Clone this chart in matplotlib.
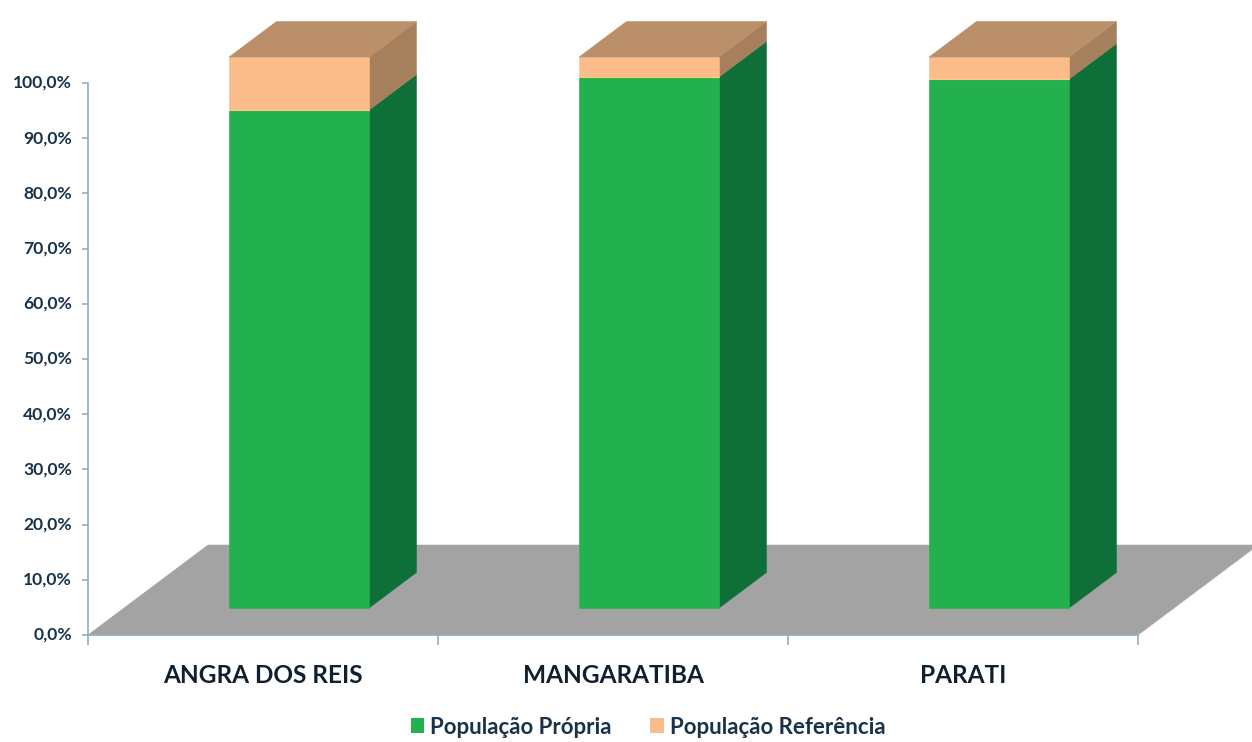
import matplotlib
matplotlib.use("Agg")
import matplotlib.pyplot as plt
from matplotlib.patches import Polygon, Patch

plt.rcParams['font.family'] = ['Lato', 'DejaVu Sans']

municipios = ["ANGRA DOS REIS", "MANGARATIBA", "PARATI"]
pop_propria = [90.2, 96.2, 95.8]
pop_referencia = [9.6, 3.6, 4.0]
y_ticks = [0, 10, 20, 30, 40, 50, 60, 70, 80, 90, 100]
y_labels = ["0,0%", "10,0%", "20,0%", "30,0%", "40,0%", "50,0%",
            "60,0%", "70,0%", "80,0%", "90,0%", "100,0%"]

GREEN, GREEN_SIDE = "#23b14f", "#0e6f38"
PEACH, PEACH_SIDE, PEACH_TOP = "#fcbc8a", "#a67f5c", "#bb8f69"
FLOOR = "#a3a3a3"
AXIS = "#8fb0c2"
TEXT = "#17324a"

# oblique projection of the excel 3D look
DEPTH_X = 0.343
DEPTH_Y = 16.3
BAR_W = 0.4
BAR_D0, BAR_D1 = 0.3, 0.695


def proj(x, y, d):
    return (x + DEPTH_X * d, y + DEPTH_Y * d)


def face(ax, pts, color, z):
    ax.add_patch(Polygon([proj(*p) for p in pts], closed=True, facecolor=color,
                         edgecolor=color, linewidth=0.4, zorder=z, clip_on=False))


def box(ax, x0, x1, y0, y1, front, side, top=None):
    d0, d1 = BAR_D0, BAR_D1
    face(ax, [(x1, y0, d0), (x1, y0, d1), (x1, y1, d1), (x1, y1, d0)], side, 3)
    face(ax, [(x0, y0, d0), (x1, y0, d0), (x1, y1, d0), (x0, y1, d0)], front, 4)
    if top:
        face(ax, [(x0, y1, d0), (x1, y1, d0), (x1, y1, d1), (x0, y1, d1)], top, 5)


fig = plt.figure(figsize=(12.52, 7.42), dpi=100)
ax = fig.add_axes([88 / 1252, 1 - 635 / 742, 1050 / 1252, 552 / 742])
ax.set_xlim(0, 3)
ax.set_ylim(0, 100)

# floor
face(ax, [(0, 0, 0), (3, 0, 0), (3, 0, 1), (0, 0, 1)], FLOOR, 1)

for i in range(len(municipios)):
    x0 = i + 0.5 - BAR_W / 2
    x1 = i + 0.5 + BAR_W / 2
    box(ax, x0, x1, 0, pop_propria[i], GREEN, GREEN_SIDE)
    box(ax, x0, x1, pop_propria[i], pop_propria[i] + pop_referencia[i],
        PEACH, PEACH_SIDE, PEACH_TOP)
    # thin yellow seam between the two series
    xs, ys = zip(proj(x0, pop_propria[i], BAR_D0), proj(x1, pop_propria[i], BAR_D0))
    ax.plot(xs, ys, color="#f6cf7c", linewidth=0.8, zorder=6, clip_on=False)

for s in ["top", "right"]:
    ax.spines[s].set_visible(False)
for s in ["left", "bottom"]:
    ax.spines[s].set_color(AXIS)
    ax.spines[s].set_linewidth(1.2)
    ax.spines[s].set_zorder(6)

ax.set_yticks(y_ticks)
ax.set_yticklabels(y_labels, fontsize=12.6, fontweight="bold", color=TEXT,
                   verticalalignment="center")
ax.tick_params(axis="y", length=4.5, width=1.2, color=AXIS, pad=7)
for lab in ax.get_yticklabels():
    lab.set_y(lab.get_position()[1])

ax.set_xticks([0, 1, 2, 3])
ax.set_xticklabels([])
ax.tick_params(axis="x", length=7.5, width=1.2, color=AXIS)
for i, nome in enumerate(municipios):
    ax.annotate(nome, (i + 0.5, 0), xytext=(0, -29), textcoords="offset points",
                ha="center", va="center",
                fontsize=17.6, fontweight="bold", color="#10202e")

handles = [Patch(facecolor=GREEN, label="População Própria"),
           Patch(facecolor=PEACH, label="População Referência")]
fig.legend(handles=handles, loc="center", bbox_to_anchor=(648 / 1252, 1 - 727 / 742),
           ncol=2, frameon=False, handlelength=0.62, handleheight=0.62,
           handletextpad=0.25, columnspacing=1.75, labelcolor=TEXT,
           prop={"size": 16, "weight": "bold"})

fig.savefig("out.png", dpi=100)
